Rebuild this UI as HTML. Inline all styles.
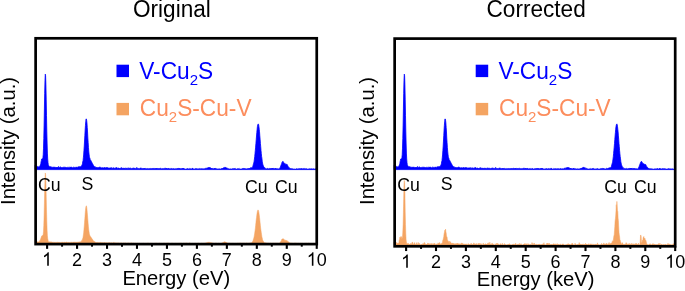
<!DOCTYPE html><html><head><meta charset="utf-8"><style>html,body{margin:0;padding:0;background:#fff;}svg{display:block;will-change:transform;}text{font-family:"Liberation Sans",sans-serif;}</style></head><body>
<svg width="685" height="291" viewBox="0 0 685 291">
<path d="M35.12 169.60L35.12 165.02L35.42 165.25L35.72 166.09L36.01 166.00L36.31 166.04L36.61 166.64L36.91 166.34L37.21 166.27L37.51 166.87L37.81 166.96L38.11 166.84L38.41 166.72L38.71 167.13L39.01 167.10L39.31 166.46L39.61 166.74L39.91 166.53L40.21 165.09L40.51 165.04L40.81 163.67L41.11 161.55L41.41 160.37L41.71 158.92L42.01 158.70L42.31 158.87L42.61 158.58L42.91 157.74L43.21 154.85L43.50 148.18L43.80 138.46L44.10 125.08L44.40 108.94L44.70 93.28L45.00 80.16L45.30 74.13L45.60 75.74L45.90 84.86L46.20 99.12L46.50 115.72L46.80 131.04L47.10 143.05L47.40 153.08L47.70 158.95L48.00 162.62L48.30 164.80L48.60 165.33L48.90 166.11L49.20 166.63L49.50 166.67L49.80 166.53L50.10 166.97L50.40 166.70L50.70 166.68L50.99 166.78L51.29 166.80L51.59 167.38L51.89 167.12L52.19 167.39L52.49 167.35L52.79 167.08L53.09 167.27L53.39 167.07L53.69 167.37L53.99 166.96L54.29 167.26L54.59 167.27L54.89 166.87L55.19 167.57L55.49 167.20L55.79 167.57L56.09 167.53L56.39 167.63L56.69 167.01L56.99 167.47L57.29 167.09L57.59 167.60L57.89 167.46L58.19 167.51L58.48 166.48L58.78 167.66L59.08 167.61L59.38 167.16L59.68 167.49L59.98 167.45L60.28 166.66L60.58 167.60L60.88 167.28L61.18 167.48L61.48 167.63L61.78 167.17L62.08 167.66L62.38 167.69L62.68 167.54L62.98 166.94L63.28 167.19L63.58 167.25L63.88 167.52L64.18 167.24L64.48 167.30L64.78 167.54L65.08 166.91L65.38 167.42L65.68 167.46L65.97 167.59L66.27 167.23L66.57 167.69L66.87 167.47L67.17 167.40L67.47 167.14L67.77 167.57L68.07 167.35L68.37 167.40L68.67 167.40L68.97 167.65L69.27 167.45L69.57 167.20L69.87 167.21L70.17 167.11L70.47 167.46L70.77 166.94L71.07 167.65L71.37 166.87L71.67 167.59L71.97 167.51L72.27 167.59L72.57 167.65L72.87 167.64L73.17 167.33L73.46 167.18L73.76 167.26L74.06 167.53L74.36 167.48L74.66 167.33L74.96 167.16L75.26 167.41L75.56 167.27L75.86 167.44L76.16 167.09L76.46 167.31L76.76 167.07L77.06 167.07L77.36 167.39L77.66 167.19L77.96 167.27L78.26 166.67L78.56 166.77L78.86 167.01L79.16 167.23L79.46 166.59L79.76 166.66L80.06 166.99L80.36 166.97L80.66 166.46L80.95 166.18L81.25 166.14L81.55 165.63L81.85 165.49L82.15 164.58L82.45 163.87L82.75 161.57L83.05 160.66L83.35 157.81L83.65 154.98L83.95 150.54L84.25 146.09L84.55 141.04L84.85 135.68L85.15 130.05L85.45 125.43L85.75 121.84L86.05 118.83L86.35 119.04L86.65 120.35L86.95 122.92L87.25 127.59L87.55 131.97L87.85 138.01L88.15 142.51L88.44 147.37L88.74 151.07L89.04 154.05L89.34 156.34L89.64 157.64L89.94 158.28L90.24 159.84L90.54 160.55L90.84 160.37L91.14 160.74L91.44 161.89L91.74 162.05L92.04 162.80L92.34 163.38L92.64 164.06L92.94 164.20L93.24 165.09L93.54 165.72L93.84 165.76L94.14 166.24L94.44 166.77L94.74 166.67L95.04 166.94L95.34 166.71L95.64 167.51L95.93 167.61L96.23 167.60L96.53 167.40L96.83 167.07L97.13 167.77L97.43 167.70L97.73 167.63L98.03 167.52L98.33 167.20L98.63 167.57L98.93 167.78L99.23 167.48L99.53 167.54L99.83 166.77L100.13 167.88L100.43 167.94L100.73 167.35L101.03 167.81L101.33 167.91L101.63 167.81L101.93 167.91L102.23 168.04L102.53 167.52L102.83 167.88L103.13 167.77L103.42 167.93L103.72 167.83L104.02 167.75L104.32 167.72L104.62 167.31L104.92 167.91L105.22 167.82L105.52 167.78L105.82 168.09L106.12 168.12L106.42 167.45L106.72 167.84L107.02 168.03L107.32 167.46L107.62 167.92L107.92 167.75L108.22 168.16L108.52 167.85L108.82 167.99L109.12 168.13L109.42 167.98L109.72 168.11L110.02 167.86L110.32 167.94L110.62 167.87L110.91 168.08L111.21 168.17L111.51 167.58L111.81 168.28L112.11 168.26L112.41 168.23L112.71 168.16L113.01 167.68L113.31 167.76L113.61 168.04L113.91 168.27L114.21 167.91L114.51 168.32L114.81 168.17L115.11 168.20L115.41 168.33L115.71 167.68L116.01 167.64L116.31 167.83L116.61 167.59L116.91 167.62L117.21 168.10L117.51 168.21L117.81 168.40L118.11 167.93L118.40 167.92L118.70 168.06L119.00 168.37L119.30 168.42L119.60 168.09L119.90 168.40L120.20 168.07L120.50 168.19L120.80 168.39L121.10 168.32L121.40 167.51L121.70 167.89L122.00 168.27L122.30 168.44L122.60 168.35L122.90 167.92L123.20 167.97L123.50 168.43L123.80 168.26L124.10 167.93L124.40 168.48L124.70 167.99L125.00 168.40L125.30 168.22L125.60 168.23L125.89 168.36L126.19 168.08L126.49 168.49L126.79 168.19L127.09 168.05L127.39 168.16L127.69 168.40L127.99 168.43L128.29 168.21L128.59 168.23L128.89 167.83L129.19 168.29L129.49 168.36L129.79 168.32L130.09 168.13L130.39 168.09L130.69 168.33L130.99 168.60L131.29 168.52L131.59 168.60L131.89 168.45L132.19 168.46L132.49 168.57L132.79 168.09L133.09 168.36L133.38 168.44L133.68 167.92L133.98 167.81L134.28 168.61L134.58 168.37L134.88 168.25L135.18 168.61L135.48 168.50L135.78 168.42L136.08 168.59L136.38 168.48L136.68 167.48L136.98 168.52L137.28 168.36L137.58 168.30L137.88 168.38L138.18 168.39L138.48 168.53L138.78 168.53L139.08 168.57L139.38 168.63L139.68 168.66L139.98 168.36L140.28 167.90L140.58 168.43L140.87 167.87L141.17 168.37L141.47 168.16L141.77 168.65L142.07 168.51L142.37 168.53L142.67 168.66L142.97 168.63L143.27 168.16L143.57 168.77L143.87 168.63L144.17 168.04L144.47 168.61L144.77 168.29L145.07 168.64L145.37 168.52L145.67 168.43L145.97 168.50L146.27 168.58L146.57 168.81L146.87 168.73L147.17 168.56L147.47 168.48L147.77 168.70L148.07 168.77L148.36 168.70L148.66 168.66L148.96 168.62L149.26 168.62L149.56 168.65L149.86 168.49L150.16 168.39L150.46 168.53L150.76 168.87L151.06 168.83L151.36 168.39L151.66 168.80L151.96 168.62L152.26 168.53L152.56 168.63L152.86 168.27L153.16 168.86L153.46 168.41L153.76 168.61L154.06 168.87L154.36 168.45L154.66 168.63L154.96 168.13L155.26 168.40L155.56 168.82L155.85 168.32L156.15 168.77L156.45 168.88L156.75 168.07L157.05 168.87L157.35 168.55L157.65 168.33L157.95 168.67L158.25 168.70L158.55 168.65L158.85 168.18L159.15 168.49L159.45 168.48L159.75 168.90L160.05 168.39L160.35 168.40L160.65 168.26L160.95 168.43L161.25 168.83L161.55 168.82L161.85 168.68L162.15 168.86L162.45 168.44L162.75 168.97L163.05 168.84L163.34 168.70L163.64 168.37L163.94 168.69L164.24 168.57L164.54 168.64L164.84 168.41L165.14 167.85L165.44 168.70L165.74 168.79L166.04 168.45L166.34 168.90L166.64 168.08L166.94 168.78L167.24 168.95L167.54 168.88L167.84 168.22L168.14 168.67L168.44 168.47L168.74 168.12L169.04 168.70L169.34 168.62L169.64 168.95L169.94 168.89L170.24 168.61L170.54 168.85L170.83 168.72L171.13 168.40L171.43 168.39L171.73 168.84L172.03 168.99L172.33 168.70L172.63 168.80L172.93 168.80L173.23 168.82L173.53 169.05L173.83 168.36L174.13 168.79L174.43 169.06L174.73 168.99L175.03 169.04L175.33 168.67L175.63 168.66L175.93 168.93L176.23 168.83L176.53 168.97L176.83 168.57L177.13 169.01L177.43 168.54L177.73 169.09L178.03 168.46L178.32 168.90L178.62 168.36L178.92 168.58L179.22 169.02L179.52 168.28L179.82 169.06L180.12 169.04L180.42 168.57L180.72 168.86L181.02 168.89L181.32 168.53L181.62 168.64L181.92 168.61L182.22 168.66L182.52 168.09L182.82 168.83L183.12 169.05L183.42 168.01L183.72 168.81L184.02 168.77L184.32 168.82L184.62 168.99L184.92 168.75L185.22 169.14L185.52 169.13L185.81 169.15L186.11 168.73L186.41 169.00L186.71 169.02L187.01 168.76L187.31 169.03L187.61 168.54L187.91 168.56L188.21 169.14L188.51 168.97L188.81 168.98L189.11 168.84L189.41 169.17L189.71 168.48L190.01 168.68L190.31 168.95L190.61 168.75L190.91 168.73L191.21 169.16L191.51 168.98L191.81 168.83L192.11 169.16L192.41 167.96L192.71 169.12L193.01 168.97L193.30 168.84L193.60 168.86L193.90 169.19L194.20 169.19L194.50 168.88L194.80 168.94L195.10 168.53L195.40 168.76L195.70 168.64L196.00 168.89L196.30 168.68L196.60 168.82L196.90 168.54L197.20 169.21L197.50 168.85L197.80 168.77L198.10 168.94L198.40 168.93L198.70 168.83L199.00 168.81L199.30 168.56L199.60 168.96L199.90 168.83L200.20 168.65L200.50 169.01L200.79 168.71L201.09 169.05L201.39 168.97L201.69 169.02L201.99 168.41L202.29 169.01L202.59 169.17L202.89 168.99L203.19 168.81L203.49 169.10L203.79 169.19L204.09 168.51L204.39 169.13L204.69 168.80L204.99 168.92L205.29 169.00L205.59 168.91L205.89 167.88L206.19 168.74L206.49 168.51L206.79 168.14L207.09 168.18L207.39 167.72L207.69 168.05L207.99 167.73L208.28 167.67L208.58 167.64L208.88 167.14L209.18 167.50L209.48 167.52L209.78 167.95L210.08 167.44L210.38 168.20L210.68 168.09L210.98 168.00L211.28 168.49L211.58 168.03L211.88 168.82L212.18 168.41L212.48 168.99L212.78 168.57L213.08 168.80L213.38 168.52L213.68 168.95L213.98 168.94L214.28 169.04L214.58 168.17L214.88 169.02L215.18 168.46L215.48 168.35L215.77 169.07L216.07 168.98L216.37 168.98L216.67 168.59L216.97 168.94L217.27 169.18L217.57 168.97L217.87 169.06L218.17 169.06L218.47 168.79L218.77 169.16L219.07 168.66L219.37 168.88L219.67 168.98L219.97 169.03L220.27 168.99L220.57 169.17L220.87 168.75L221.17 168.64L221.47 168.64L221.77 168.48L222.07 168.88L222.37 168.12L222.67 168.57L222.97 168.11L223.26 167.93L223.56 167.81L223.86 167.71L224.16 167.75L224.46 167.61L224.76 167.50L225.06 166.95L225.36 167.25L225.66 167.87L225.96 167.96L226.26 168.04L226.56 167.71L226.86 168.07L227.16 168.66L227.46 168.47L227.76 168.34L228.06 168.61L228.36 168.70L228.66 168.82L228.96 168.96L229.26 168.80L229.56 169.20L229.86 169.07L230.16 168.96L230.46 169.02L230.75 168.80L231.05 168.97L231.35 169.08L231.65 169.14L231.95 168.85L232.25 168.46L232.55 168.71L232.85 169.09L233.15 169.21L233.45 168.97L233.75 168.42L234.05 169.04L234.35 168.84L234.65 168.39L234.95 168.76L235.25 168.51L235.55 168.70L235.85 169.20L236.15 168.97L236.45 169.14L236.75 169.17L237.05 168.82L237.35 168.71L237.65 168.81L237.95 169.05L238.24 168.87L238.54 168.85L238.84 168.70L239.14 168.42L239.44 169.04L239.74 169.15L240.04 169.11L240.34 169.07L240.64 169.15L240.94 168.97L241.24 169.09L241.54 169.11L241.84 168.71L242.14 168.63L242.44 168.84L242.74 168.40L243.04 168.93L243.34 168.79L243.64 168.38L243.94 168.32L244.24 168.93L244.54 168.88L244.84 168.20L245.14 168.74L245.44 168.77L245.73 168.88L246.03 168.66L246.33 168.74L246.63 168.92L246.93 169.03L247.23 168.78L247.53 168.69L247.83 168.75L248.13 168.18L248.43 168.44L248.73 168.69L249.03 168.79L249.33 168.25L249.63 168.77L249.93 168.18L250.23 168.81L250.53 167.62L250.83 168.15L251.13 167.83L251.43 167.95L251.73 167.61L252.03 167.83L252.33 167.58L252.63 166.96L252.93 166.05L253.22 164.79L253.52 163.62L253.82 162.60L254.12 161.23L254.42 159.04L254.72 156.69L255.02 153.39L255.32 150.30L255.62 147.14L255.92 143.45L256.22 139.55L256.52 135.99L256.82 132.48L257.12 129.28L257.42 126.53L257.72 125.07L258.02 124.20L258.32 123.88L258.62 124.65L258.92 126.39L259.22 129.16L259.52 131.76L259.82 135.88L260.12 139.32L260.42 143.50L260.71 146.67L261.01 150.52L261.31 153.58L261.61 156.55L261.91 158.23L262.21 161.19L262.51 163.00L262.81 164.25L263.11 165.25L263.41 165.82L263.71 167.10L264.01 167.31L264.31 167.44L264.61 167.40L264.91 168.26L265.21 168.43L265.51 168.40L265.81 168.55L266.11 168.49L266.41 168.68L266.71 168.88L267.01 168.63L267.31 168.51L267.61 168.24L267.91 168.79L268.20 168.80L268.50 168.73L268.80 168.92L269.10 168.68L269.40 168.75L269.70 168.45L270.00 168.57L270.30 169.09L270.60 168.55L270.90 168.36L271.20 168.95L271.50 168.79L271.80 168.07L272.10 168.65L272.40 168.22L272.70 169.03L273.00 168.16L273.30 168.67L273.60 168.78L273.90 168.29L274.20 168.51L274.50 168.82L274.80 168.84L275.10 168.80L275.40 168.02L275.69 168.59L275.99 169.06L276.29 168.56L276.59 169.19L276.89 168.80L277.19 168.64L277.49 168.99L277.79 168.81L278.09 168.92L278.39 168.65L278.69 169.04L278.99 168.90L279.29 168.66L279.59 168.43L279.89 167.78L280.19 167.57L280.49 167.00L280.79 165.77L281.09 165.08L281.39 164.28L281.69 163.47L281.99 162.39L282.29 162.00L282.59 161.49L282.89 161.49L283.18 161.55L283.48 161.90L283.78 162.63L284.08 163.20L284.38 163.36L284.68 163.56L284.98 163.87L285.28 163.64L285.58 164.05L285.88 164.45L286.18 164.22L286.48 164.21L286.78 164.80L287.08 164.43L287.38 164.99L287.68 165.61L287.98 166.21L288.28 166.72L288.58 167.19L288.88 167.34L289.18 167.44L289.48 168.17L289.78 168.54L290.08 168.07L290.38 168.64L290.67 169.06L290.97 168.93L291.27 168.52L291.57 169.15L291.87 168.73L292.17 168.82L292.47 169.22L292.77 168.71L293.07 168.76L293.37 169.16L293.67 169.21L293.97 168.99L294.27 168.89L294.57 169.14L294.87 168.94L295.17 169.25L295.47 169.23L295.77 169.01L296.07 169.03L296.37 168.74L296.67 168.82L296.97 168.76L297.27 169.18L297.57 168.79L297.87 169.04L298.16 168.76L298.46 169.19L298.76 168.84L299.06 168.33L299.36 168.78L299.66 168.95L299.96 169.15L300.26 168.94L300.56 168.72L300.86 169.25L301.16 168.18L301.46 168.92L301.76 168.97L302.06 168.77L302.36 168.59L302.66 169.26L302.96 168.91L303.26 169.12L303.56 168.47L303.86 168.71L304.16 168.79L304.46 168.90L304.76 168.51L305.06 168.71L305.36 169.05L305.65 168.94L305.95 168.55L306.25 169.12L306.55 168.80L306.85 168.78L307.15 168.91L307.45 169.24L307.75 169.08L308.05 169.23L308.35 169.02L308.65 168.94L308.95 169.03L309.25 169.26L309.55 169.23L309.85 168.46L310.15 168.99L310.45 169.10L310.75 168.96L311.05 169.28L311.35 168.60L311.65 169.23L311.95 169.13L312.25 168.87L312.55 169.21L312.85 168.81L313.14 169.18L313.44 168.81L313.74 168.63L314.04 169.17L314.34 169.10L314.64 169.17L314.94 168.99L315.24 169.23L315.54 168.97L315.84 169.24L316.14 168.26L316.44 169.16L316.74 168.75L316.74 169.60Z" fill="#0000ff" stroke="#0000ff" stroke-width="0.8" stroke-linejoin="round"/>
<path d="M35.12 243.50L35.12 240.43L35.42 241.08L35.72 241.33L36.01 241.56L36.31 241.52L36.61 241.49L36.91 241.83L37.21 241.82L37.51 241.80L37.81 241.90L38.11 242.00L38.41 242.05L38.71 241.85L39.01 241.86L39.31 241.62L39.61 240.63L39.91 240.64L40.21 240.17L40.51 239.27L40.81 238.46L41.11 237.55L41.41 236.77L41.71 235.97L42.01 235.83L42.31 235.45L42.61 235.51L42.91 235.28L43.21 234.30L43.50 231.22L43.80 225.23L44.10 215.91L44.40 203.62L44.70 189.47L45.00 178.93L45.30 172.94L45.60 174.53L45.90 183.03L46.20 195.99L46.50 209.83L46.80 221.11L47.10 230.28L47.40 235.44L47.70 238.61L48.00 240.10L48.30 241.28L48.60 241.75L48.90 241.96L49.20 241.68L49.50 241.85L49.80 242.13L50.10 241.68L50.40 242.25L50.70 241.84L50.99 242.34L51.29 242.05L51.59 241.97L51.89 242.17L52.19 242.25L52.49 241.91L52.79 242.21L53.09 242.40L53.39 242.17L53.69 242.43L53.99 242.25L54.29 242.43L54.59 242.34L54.89 242.32L55.19 242.39L55.49 242.31L55.79 242.39L56.09 242.13L56.39 242.40L56.69 242.21L56.99 242.51L57.29 242.32L57.59 242.25L57.89 242.45L58.19 242.36L58.48 241.94L58.78 242.48L59.08 242.45L59.38 242.46L59.68 242.35L59.98 242.16L60.28 242.39L60.58 242.44L60.88 242.53L61.18 242.44L61.48 242.41L61.78 242.37L62.08 242.45L62.38 242.02L62.68 242.29L62.98 242.34L63.28 242.41L63.58 242.38L63.88 242.40L64.18 242.03L64.48 242.17L64.78 242.34L65.08 242.29L65.38 242.48L65.68 242.35L65.97 242.19L66.27 241.98L66.57 242.21L66.87 242.12L67.17 242.45L67.47 242.32L67.77 242.49L68.07 242.45L68.37 242.37L68.67 242.35L68.97 242.15L69.27 242.45L69.57 242.45L69.87 242.35L70.17 242.48L70.47 242.27L70.77 242.43L71.07 242.17L71.37 242.21L71.67 242.30L71.97 242.32L72.27 242.20L72.57 242.41L72.87 242.41L73.17 242.04L73.46 242.10L73.76 242.19L74.06 242.17L74.36 242.12L74.66 242.23L74.96 242.37L75.26 242.28L75.56 242.20L75.86 242.15L76.16 242.19L76.46 242.25L76.76 242.23L77.06 242.10L77.36 242.17L77.66 242.13L77.96 242.24L78.26 242.04L78.56 242.15L78.86 241.96L79.16 241.97L79.46 241.78L79.76 242.01L80.06 241.94L80.36 241.86L80.66 241.69L80.95 241.69L81.25 241.26L81.55 241.12L81.85 240.25L82.15 240.42L82.45 238.98L82.75 238.36L83.05 237.22L83.35 235.08L83.65 232.93L83.95 229.62L84.25 226.15L84.55 222.26L84.85 218.43L85.15 214.25L85.45 210.52L85.75 207.78L86.05 206.12L86.35 205.84L86.65 206.81L86.95 209.16L87.25 212.40L87.55 215.97L87.85 219.89L88.15 223.63L88.44 227.03L88.74 229.69L89.04 231.84L89.34 233.79L89.64 234.94L89.94 235.60L90.24 236.41L90.54 236.44L90.84 236.93L91.14 237.57L91.44 237.75L91.74 238.29L92.04 238.77L92.34 239.26L92.64 239.50L92.94 240.07L93.24 240.60L93.54 240.93L93.84 241.29L94.14 241.43L94.44 241.33L94.74 242.01L95.04 242.07L95.34 242.21L95.64 242.18L95.93 242.46L96.23 242.15L96.53 242.52L96.83 242.42L97.13 242.49L97.43 242.44L97.73 242.34L98.03 242.40L98.33 242.66L98.63 242.45L98.93 242.56L99.23 242.64L99.53 242.41L99.83 242.56L100.13 242.66L100.43 242.36L100.73 242.36L101.03 242.41L101.33 242.60L101.63 242.69L101.93 242.51L102.23 242.60L102.53 242.65L102.83 242.83L103.13 242.60L103.42 242.76L103.72 242.77L104.02 242.44L104.32 242.64L104.62 242.48L104.92 242.40L105.22 242.88L105.52 242.85L105.82 242.68L106.12 242.56L106.42 242.88L106.72 242.64L107.02 242.77L107.32 242.73L107.62 242.89L107.92 242.77L108.22 242.69L108.52 242.93L108.82 242.55L109.12 242.86L109.42 242.56L109.72 242.80L110.02 242.95L110.32 242.84L110.62 242.82L110.91 243.01L111.21 242.69L111.51 242.87L111.81 242.75L112.11 242.88L112.41 243.00L112.71 242.95L113.01 242.52L113.31 242.38L113.61 242.92L113.91 242.87L114.21 242.99L114.51 243.05L114.81 242.50L115.11 242.65L115.41 243.03L115.71 243.01L116.01 243.07L116.31 242.95L116.61 242.95L116.91 242.80L117.21 242.86L117.51 243.03L117.81 242.91L118.11 242.96L118.40 242.76L118.70 243.04L119.00 242.93L119.30 243.01L119.60 243.14L119.90 243.00L120.20 242.98L120.50 243.03L120.80 243.13L121.10 242.97L121.40 242.78L121.70 243.21L122.00 243.10L122.30 243.17L122.60 243.18L122.90 243.22L123.20 242.82L123.50 242.96L123.80 243.13L124.10 242.99L124.40 243.02L124.70 243.25L125.00 243.14L125.30 242.72L125.60 243.21L125.89 243.03L126.19 243.08L126.49 243.25L126.79 243.30L127.09 242.95L127.39 243.29L127.69 242.84L127.99 243.28L128.29 242.99L128.59 243.04L128.89 243.14L129.19 243.00L129.49 243.31L129.79 243.09L130.09 243.35L130.39 243.25L130.69 242.88L130.99 243.12L131.29 243.02L131.59 242.80L131.89 243.34L132.19 243.36L132.49 243.07L132.79 242.99L133.09 243.13L133.38 243.06L133.68 243.16L133.98 243.42L134.28 243.28L134.58 243.44L134.88 243.12L135.18 243.30L135.48 243.04L135.78 243.24L136.08 243.21L136.38 243.30L136.68 243.41L136.98 243.23L137.28 243.38L137.58 243.31L137.88 242.86L138.18 243.47L138.48 243.48L138.78 243.01L139.08 243.45L139.38 243.26L139.68 243.14L139.98 243.12L140.28 243.45L140.58 243.39L140.87 243.32L141.17 243.43L141.47 243.49L141.77 243.12L142.07 243.29L142.37 243.30L142.67 243.12L142.97 243.44L143.27 243.24L143.57 243.29L143.87 243.10L144.17 243.40L144.47 243.39L144.77 243.36L145.07 243.28L145.37 243.29L145.67 243.44L145.97 243.17L146.27 243.47L146.57 243.26L146.87 243.44L147.17 243.25L147.47 243.43L147.77 243.02L148.07 243.31L148.36 243.36L148.66 243.15L148.96 243.18L149.26 243.46L149.56 243.41L149.86 243.44L150.16 243.40L150.46 243.30L150.76 243.22L151.06 243.14L151.36 243.35L151.66 243.29L151.96 243.43L152.26 243.40L152.56 243.33L152.86 243.31L153.16 243.01L153.46 243.40L153.76 243.39L154.06 243.16L154.36 243.43L154.66 243.32L154.96 243.32L155.26 243.44L155.56 243.38L155.85 242.87L156.15 243.14L156.45 243.19L156.75 243.32L157.05 243.33L157.35 243.45L157.65 243.40L157.95 243.35L158.25 243.45L158.55 243.30L158.85 243.42L159.15 243.05L159.45 243.15L159.75 243.16L160.05 243.37L160.35 243.29L160.65 243.40L160.95 243.34L161.25 243.38L161.55 243.35L161.85 243.14L162.15 243.33L162.45 243.33L162.75 243.44L163.05 243.32L163.34 243.37L163.64 243.16L163.94 243.12L164.24 243.22L164.54 243.21L164.84 243.06L165.14 243.23L165.44 243.36L165.74 243.27L166.04 242.93L166.34 243.47L166.64 243.08L166.94 243.09L167.24 243.06L167.54 243.48L167.84 242.80L168.14 243.40L168.44 243.16L168.74 243.38L169.04 243.28L169.34 243.37L169.64 243.40L169.94 243.27L170.24 243.43L170.54 242.97L170.83 243.42L171.13 243.25L171.43 242.91L171.73 243.45L172.03 243.45L172.33 243.35L172.63 243.30L172.93 243.04L173.23 243.24L173.53 243.47L173.83 243.23L174.13 243.32L174.43 243.44L174.73 243.37L175.03 243.28L175.33 243.42L175.63 243.15L175.93 243.37L176.23 243.32L176.53 243.39L176.83 243.44L177.13 243.39L177.43 243.36L177.73 243.49L178.03 243.23L178.32 243.49L178.62 243.26L178.92 243.49L179.22 243.31L179.52 243.32L179.82 243.35L180.12 243.20L180.42 243.19L180.72 243.36L181.02 243.44L181.32 243.34L181.62 243.28L181.92 243.47L182.22 243.36L182.52 243.02L182.82 243.42L183.12 243.27L183.42 243.13L183.72 243.30L184.02 243.33L184.32 243.24L184.62 243.49L184.92 243.15L185.22 243.44L185.52 243.30L185.81 243.06L186.11 243.22L186.41 243.30L186.71 242.79L187.01 243.32L187.31 243.01L187.61 243.46L187.91 243.25L188.21 243.42L188.51 243.42L188.81 243.48L189.11 242.86L189.41 242.98L189.71 243.09L190.01 243.07L190.31 243.26L190.61 242.99L190.91 243.30L191.21 243.39L191.51 243.48L191.81 243.46L192.11 243.31L192.41 243.35L192.71 243.43L193.01 243.37L193.30 243.44L193.60 243.40L193.90 243.14L194.20 243.43L194.50 242.98L194.80 243.33L195.10 243.48L195.40 243.21L195.70 243.36L196.00 243.44L196.30 243.40L196.60 243.49L196.90 243.32L197.20 242.96L197.50 243.36L197.80 243.22L198.10 243.28L198.40 243.03L198.70 243.31L199.00 243.27L199.30 243.41L199.60 243.40L199.90 243.36L200.20 243.38L200.50 243.33L200.79 243.43L201.09 243.24L201.39 243.25L201.69 243.15L201.99 243.07L202.29 243.42L202.59 243.19L202.89 243.35L203.19 243.39L203.49 243.09L203.79 243.16L204.09 243.30L204.39 243.28L204.69 243.22L204.99 243.18L205.29 243.04L205.59 243.12L205.89 242.81L206.19 242.83L206.49 242.90L206.79 242.65L207.09 242.67L207.39 242.76L207.69 242.65L207.99 241.94L208.28 242.57L208.58 242.21L208.88 242.47L209.18 242.25L209.48 242.31L209.78 242.61L210.08 242.68L210.38 242.63L210.68 242.55L210.98 242.77L211.28 242.73L211.58 242.80L211.88 243.08L212.18 242.96L212.48 242.87L212.78 243.20L213.08 243.16L213.38 242.97L213.68 243.36L213.98 243.40L214.28 243.41L214.58 243.35L214.88 243.27L215.18 243.24L215.48 243.24L215.77 242.91L216.07 242.95L216.37 243.41L216.67 243.28L216.97 243.44L217.27 243.37L217.57 243.03L217.87 243.42L218.17 243.29L218.47 243.22L218.77 243.30L219.07 243.26L219.37 243.35L219.67 243.43L219.97 243.20L220.27 243.40L220.57 243.35L220.87 243.37L221.17 243.21L221.47 243.20L221.77 243.19L222.07 243.03L222.37 242.80L222.67 242.68L222.97 242.56L223.26 242.42L223.56 242.31L223.86 242.17L224.16 241.72L224.46 241.95L224.76 241.71L225.06 241.79L225.36 242.03L225.66 242.04L225.96 242.36L226.26 242.46L226.56 242.48L226.86 242.81L227.16 242.80L227.46 242.99L227.76 243.18L228.06 243.18L228.36 243.09L228.66 243.31L228.96 243.31L229.26 243.18L229.56 243.22L229.86 243.18L230.16 243.22L230.46 243.41L230.75 243.31L231.05 243.36L231.35 243.29L231.65 242.96L231.95 243.43L232.25 243.40L232.55 243.26L232.85 243.39L233.15 243.29L233.45 243.43L233.75 243.24L234.05 243.22L234.35 243.37L234.65 243.44L234.95 243.42L235.25 243.34L235.55 243.39L235.85 243.26L236.15 243.18L236.45 243.39L236.75 243.39L237.05 242.98L237.35 243.16L237.65 243.27L237.95 243.22L238.24 243.27L238.54 242.92L238.84 243.32L239.14 243.27L239.44 242.88L239.74 243.31L240.04 243.32L240.34 243.06L240.64 243.20L240.94 243.19L241.24 243.34L241.54 243.13L241.84 243.40L242.14 243.25L242.44 243.07L242.74 243.27L243.04 243.18L243.34 243.14L243.64 243.19L243.94 243.23L244.24 243.15L244.54 243.34L244.84 243.14L245.14 243.34L245.44 243.33L245.73 243.19L246.03 242.91L246.33 243.26L246.63 242.84L246.93 243.01L247.23 243.29L247.53 243.25L247.83 243.24L248.13 243.05L248.43 243.17L248.73 243.26L249.03 242.95L249.33 243.22L249.63 243.15L249.93 242.86L250.23 243.04L250.53 242.71L250.83 243.03L251.13 242.90L251.43 242.70L251.73 242.65L252.03 242.30L252.33 241.95L252.63 241.37L252.93 241.06L253.22 240.06L253.52 239.02L253.82 238.08L254.12 236.73L254.42 234.91L254.72 233.06L255.02 230.89L255.32 228.48L255.62 225.74L255.92 222.77L256.22 219.74L256.52 217.56L256.82 215.08L257.12 212.96L257.42 211.24L257.72 210.38L258.02 209.86L258.32 210.27L258.62 211.15L258.92 212.68L259.22 214.92L259.52 217.32L259.82 220.09L260.12 222.93L260.42 225.82L260.71 228.52L261.01 230.76L261.31 232.85L261.61 234.85L261.91 236.90L262.21 237.94L262.51 239.49L262.81 240.35L263.11 241.07L263.41 241.37L263.71 242.04L264.01 242.20L264.31 242.56L264.61 242.79L264.91 242.81L265.21 242.72L265.51 243.01L265.81 242.69L266.11 243.09L266.41 243.12L266.71 243.05L267.01 243.20L267.31 243.23L267.61 243.28L267.91 242.86L268.20 243.11L268.50 243.16L268.80 243.23L269.10 243.27L269.40 243.27L269.70 243.30L270.00 243.34L270.30 243.20L270.60 243.12L270.90 243.37L271.20 243.18L271.50 243.39L271.80 243.35L272.10 243.33L272.40 243.10L272.70 243.37L273.00 242.95L273.30 243.09L273.60 243.23L273.90 243.23L274.20 243.19L274.50 243.36L274.80 243.11L275.10 243.38L275.40 243.16L275.69 243.41L275.99 242.87L276.29 243.20L276.59 243.33L276.89 243.10L277.19 243.27L277.49 243.16L277.79 243.28L278.09 243.26L278.39 243.03L278.69 243.33L278.99 242.98L279.29 243.19L279.59 242.93L279.89 242.81L280.19 242.33L280.49 242.10L280.79 241.54L281.09 241.07L281.39 240.50L281.69 239.60L281.99 239.07L282.29 239.01L282.59 238.89L282.89 238.86L283.18 238.87L283.48 238.80L283.78 239.24L284.08 239.80L284.38 239.78L284.68 240.16L284.98 240.45L285.28 240.13L285.58 240.25L285.88 240.24L286.18 240.30L286.48 240.66L286.78 240.60L287.08 240.97L287.38 240.71L287.68 241.42L287.98 241.83L288.28 241.85L288.58 241.84L288.88 242.58L289.18 242.80L289.48 242.61L289.78 242.99L290.08 243.19L290.38 243.02L290.67 243.16L290.97 242.79L291.27 243.25L291.57 243.21L291.87 243.41L292.17 243.15L292.47 243.19L292.77 243.40L293.07 243.26L293.37 243.41L293.67 243.26L293.97 243.26L294.27 243.19L294.57 243.33L294.87 243.28L295.17 242.74L295.47 243.48L295.77 243.39L296.07 243.25L296.37 243.21L296.67 243.31L296.97 243.19L297.27 243.28L297.57 243.37L297.87 242.97L298.16 243.31L298.46 243.16L298.76 243.43L299.06 243.45L299.36 243.37L299.66 243.45L299.96 243.27L300.26 243.40L300.56 243.17L300.86 243.24L301.16 243.28L301.46 243.06L301.76 243.44L302.06 243.40L302.36 243.28L302.66 243.34L302.96 243.25L303.26 243.36L303.56 243.45L303.86 243.46L304.16 243.20L304.46 243.43L304.76 243.47L305.06 243.41L305.36 243.35L305.65 243.24L305.95 242.96L306.25 243.09L306.55 243.24L306.85 243.24L307.15 243.33L307.45 243.41L307.75 243.38L308.05 243.39L308.35 243.34L308.65 243.05L308.95 243.13L309.25 243.32L309.55 243.29L309.85 243.45L310.15 243.17L310.45 243.48L310.75 243.47L311.05 243.01L311.35 243.34L311.65 243.47L311.95 243.47L312.25 243.04L312.55 243.46L312.85 243.32L313.14 243.33L313.44 243.40L313.74 243.28L314.04 243.24L314.34 243.34L314.64 243.48L314.94 243.26L315.24 243.34L315.54 243.39L315.84 243.37L316.14 243.37L316.44 243.13L316.74 243.06L316.74 243.50Z" fill="#f4a462" stroke="#f4a462" stroke-width="0.5" stroke-linejoin="round"/>
<rect x="35.63" y="38.30" width="281.11" height="205.80" fill="none" stroke="#000" stroke-width="2.7"/>
<line x1="47.10" y1="244.10" x2="47.10" y2="248.85" stroke="#000" stroke-width="2.1"/>
<path transform="translate(42.09,265.65) scale(0.008789,-0.009053)" d="M763 0L583 0L583 1147Q518 1085 412 1023Q306 961 222 930L222 1104Q373 1175 486 1276Q599 1377 646 1472L763 1472Z"/>
<line x1="62.08" y1="244.10" x2="62.08" y2="246.65" stroke="#000" stroke-width="2.0"/>
<line x1="77.06" y1="244.10" x2="77.06" y2="248.85" stroke="#000" stroke-width="2.1"/>
<text transform="translate(77.06,265.65) scale(1,1.03)" font-size="18" text-anchor="middle">2</text>
<line x1="92.04" y1="244.10" x2="92.04" y2="246.65" stroke="#000" stroke-width="2.0"/>
<line x1="107.02" y1="244.10" x2="107.02" y2="248.85" stroke="#000" stroke-width="2.1"/>
<text transform="translate(107.02,265.65) scale(1,1.03)" font-size="18" text-anchor="middle">3</text>
<line x1="122.00" y1="244.10" x2="122.00" y2="246.65" stroke="#000" stroke-width="2.0"/>
<line x1="136.98" y1="244.10" x2="136.98" y2="248.85" stroke="#000" stroke-width="2.1"/>
<text transform="translate(136.98,265.65) scale(1,1.03)" font-size="18" text-anchor="middle">4</text>
<line x1="151.96" y1="244.10" x2="151.96" y2="246.65" stroke="#000" stroke-width="2.0"/>
<line x1="166.94" y1="244.10" x2="166.94" y2="248.85" stroke="#000" stroke-width="2.1"/>
<text transform="translate(166.94,265.65) scale(1,1.03)" font-size="18" text-anchor="middle">5</text>
<line x1="181.92" y1="244.10" x2="181.92" y2="246.65" stroke="#000" stroke-width="2.0"/>
<line x1="196.90" y1="244.10" x2="196.90" y2="248.85" stroke="#000" stroke-width="2.1"/>
<text transform="translate(196.90,265.65) scale(1,1.03)" font-size="18" text-anchor="middle">6</text>
<line x1="211.88" y1="244.10" x2="211.88" y2="246.65" stroke="#000" stroke-width="2.0"/>
<line x1="226.86" y1="244.10" x2="226.86" y2="248.85" stroke="#000" stroke-width="2.1"/>
<text transform="translate(226.86,265.65) scale(1,1.03)" font-size="18" text-anchor="middle">7</text>
<line x1="241.84" y1="244.10" x2="241.84" y2="246.65" stroke="#000" stroke-width="2.0"/>
<line x1="256.82" y1="244.10" x2="256.82" y2="248.85" stroke="#000" stroke-width="2.1"/>
<text transform="translate(256.82,265.65) scale(1,1.03)" font-size="18" text-anchor="middle">8</text>
<line x1="271.80" y1="244.10" x2="271.80" y2="246.65" stroke="#000" stroke-width="2.0"/>
<line x1="286.78" y1="244.10" x2="286.78" y2="248.85" stroke="#000" stroke-width="2.1"/>
<text transform="translate(286.78,265.65) scale(1,1.03)" font-size="18" text-anchor="middle">9</text>
<line x1="301.76" y1="244.10" x2="301.76" y2="246.65" stroke="#000" stroke-width="2.0"/>
<line x1="316.74" y1="244.10" x2="316.74" y2="248.85" stroke="#000" stroke-width="2.1"/>
<path transform="translate(306.73,265.65) scale(0.008789,-0.009053)" d="M763 0L583 0L583 1147Q518 1085 412 1023Q306 961 222 930L222 1104Q373 1175 486 1276Q599 1377 646 1472L763 1472Z"/><text transform="translate(316.74,265.65) scale(1,1.03)" font-size="18">0</text>
<path d="M394.14 169.60L394.14 165.02L394.44 165.25L394.74 166.09L395.04 166.00L395.34 166.04L395.64 166.64L395.93 166.34L396.23 166.27L396.53 166.87L396.83 166.96L397.13 166.84L397.43 166.72L397.73 167.13L398.03 167.10L398.33 166.46L398.62 166.74L398.92 166.53L399.22 165.09L399.52 165.04L399.82 163.67L400.12 161.55L400.42 160.37L400.72 158.92L401.02 158.70L401.32 158.87L401.62 158.58L401.91 157.74L402.21 154.85L402.51 148.18L402.81 138.46L403.11 125.08L403.41 108.94L403.71 93.28L404.01 80.16L404.31 74.13L404.61 75.74L404.90 84.86L405.20 99.12L405.50 115.72L405.80 131.04L406.10 143.05L406.40 153.08L406.70 158.95L407.00 162.62L407.30 164.80L407.60 165.33L407.89 166.11L408.19 166.63L408.49 166.67L408.79 166.53L409.09 166.97L409.39 166.70L409.69 166.68L409.99 166.78L410.29 166.80L410.59 167.38L410.88 167.12L411.18 167.39L411.48 167.35L411.78 167.08L412.08 167.27L412.38 167.07L412.68 167.37L412.98 166.96L413.28 167.26L413.58 167.27L413.87 166.87L414.17 167.57L414.47 167.20L414.77 167.57L415.07 167.53L415.37 167.63L415.67 167.01L415.97 167.47L416.27 167.09L416.56 167.60L416.86 167.46L417.16 167.51L417.46 166.48L417.76 167.66L418.06 167.61L418.36 167.16L418.66 167.49L418.96 167.45L419.26 166.66L419.56 167.60L419.85 167.28L420.15 167.48L420.45 167.63L420.75 167.17L421.05 167.66L421.35 167.69L421.65 167.54L421.95 166.94L422.25 167.19L422.55 167.25L422.84 167.52L423.14 167.24L423.44 167.30L423.74 167.54L424.04 166.91L424.34 167.42L424.64 167.46L424.94 167.59L425.24 167.23L425.54 167.69L425.83 167.47L426.13 167.40L426.43 167.14L426.73 167.57L427.03 167.35L427.33 167.40L427.63 167.40L427.93 167.65L428.23 167.45L428.53 167.20L428.82 167.21L429.12 167.11L429.42 167.46L429.72 166.94L430.02 167.65L430.32 166.87L430.62 167.59L430.92 167.51L431.22 167.59L431.52 167.65L431.81 167.64L432.11 167.33L432.41 167.18L432.71 167.26L433.01 167.53L433.31 167.48L433.61 167.33L433.91 167.16L434.21 167.41L434.51 167.27L434.80 167.44L435.10 167.09L435.40 167.31L435.70 167.07L436.00 167.07L436.30 167.39L436.60 167.19L436.90 167.27L437.20 166.67L437.50 166.77L437.79 167.01L438.09 167.23L438.39 166.59L438.69 166.66L438.99 166.99L439.29 166.97L439.59 166.46L439.89 166.18L440.19 166.14L440.49 165.63L440.78 165.49L441.08 164.58L441.38 163.87L441.68 161.57L441.98 160.66L442.28 157.81L442.58 154.98L442.88 150.54L443.18 146.09L443.48 141.04L443.77 135.68L444.07 130.05L444.37 125.43L444.67 121.84L444.97 118.83L445.27 119.04L445.57 120.35L445.87 122.92L446.17 127.59L446.47 131.97L446.76 138.01L447.06 142.51L447.36 147.37L447.66 151.07L447.96 154.05L448.26 156.34L448.56 157.64L448.86 158.28L449.16 159.84L449.46 160.55L449.75 160.37L450.05 160.74L450.35 161.89L450.65 162.05L450.95 162.80L451.25 163.38L451.55 164.06L451.85 164.20L452.15 165.09L452.44 165.72L452.74 165.76L453.04 166.24L453.34 166.77L453.64 166.67L453.94 166.94L454.24 166.71L454.54 167.51L454.84 167.61L455.14 167.60L455.44 167.40L455.73 167.07L456.03 167.77L456.33 167.70L456.63 167.63L456.93 167.52L457.23 167.20L457.53 167.57L457.83 167.78L458.13 167.48L458.43 167.54L458.72 166.77L459.02 167.88L459.32 167.94L459.62 167.35L459.92 167.81L460.22 167.91L460.52 167.81L460.82 167.91L461.12 168.04L461.42 167.52L461.71 167.88L462.01 167.77L462.31 167.93L462.61 167.83L462.91 167.75L463.21 167.72L463.51 167.31L463.81 167.91L464.11 167.82L464.41 167.78L464.70 168.09L465.00 168.12L465.30 167.45L465.60 167.84L465.90 168.03L466.20 167.46L466.50 167.92L466.80 167.75L467.10 168.16L467.40 167.85L467.69 167.99L467.99 168.13L468.29 167.98L468.59 168.11L468.89 167.86L469.19 167.94L469.49 167.87L469.79 168.08L470.09 168.17L470.39 167.58L470.68 168.28L470.98 168.26L471.28 168.23L471.58 168.16L471.88 167.68L472.18 167.76L472.48 168.04L472.78 168.27L473.08 167.91L473.38 168.32L473.67 168.17L473.97 168.20L474.27 168.33L474.57 167.68L474.87 167.64L475.17 167.83L475.47 167.59L475.77 167.62L476.07 168.10L476.37 168.21L476.66 168.40L476.96 167.93L477.26 167.92L477.56 168.06L477.86 168.37L478.16 168.42L478.46 168.09L478.76 168.40L479.06 168.07L479.36 168.19L479.65 168.39L479.95 168.32L480.25 167.51L480.55 167.89L480.85 168.27L481.15 168.44L481.45 168.35L481.75 167.92L482.05 167.97L482.35 168.43L482.64 168.26L482.94 167.93L483.24 168.48L483.54 167.99L483.84 168.40L484.14 168.22L484.44 168.23L484.74 168.36L485.04 168.08L485.34 168.49L485.63 168.19L485.93 168.05L486.23 168.16L486.53 168.40L486.83 168.43L487.13 168.21L487.43 168.23L487.73 167.83L488.03 168.29L488.33 168.36L488.62 168.32L488.92 168.13L489.22 168.09L489.52 168.33L489.82 168.60L490.12 168.52L490.42 168.60L490.72 168.45L491.02 168.46L491.32 168.57L491.61 168.09L491.91 168.36L492.21 168.44L492.51 167.92L492.81 167.81L493.11 168.61L493.41 168.37L493.71 168.25L494.01 168.61L494.31 168.50L494.60 168.42L494.90 168.59L495.20 168.48L495.50 167.48L495.80 168.52L496.10 168.36L496.40 168.30L496.70 168.38L497.00 168.39L497.30 168.53L497.59 168.53L497.89 168.57L498.19 168.63L498.49 168.66L498.79 168.36L499.09 167.90L499.39 168.43L499.69 167.87L499.99 168.37L500.29 168.16L500.58 168.65L500.88 168.51L501.18 168.53L501.48 168.66L501.78 168.63L502.08 168.16L502.38 168.77L502.68 168.63L502.98 168.04L503.28 168.61L503.57 168.29L503.87 168.64L504.17 168.52L504.47 168.43L504.77 168.50L505.07 168.58L505.37 168.81L505.67 168.73L505.97 168.56L506.26 168.48L506.56 168.70L506.86 168.77L507.16 168.70L507.46 168.66L507.76 168.62L508.06 168.62L508.36 168.65L508.66 168.49L508.96 168.39L509.25 168.53L509.55 168.87L509.85 168.83L510.15 168.39L510.45 168.80L510.75 168.62L511.05 168.53L511.35 168.63L511.65 168.27L511.95 168.86L512.25 168.41L512.54 168.61L512.84 168.87L513.14 168.45L513.44 168.63L513.74 168.13L514.04 168.40L514.34 168.82L514.64 168.32L514.94 168.77L515.24 168.88L515.53 168.07L515.83 168.87L516.13 168.55L516.43 168.33L516.73 168.67L517.03 168.70L517.33 168.65L517.63 168.18L517.93 168.49L518.23 168.48L518.52 168.90L518.82 168.39L519.12 168.40L519.42 168.26L519.72 168.43L520.02 168.83L520.32 168.82L520.62 168.68L520.92 168.86L521.22 168.44L521.51 168.97L521.81 168.84L522.11 168.70L522.41 168.37L522.71 168.69L523.01 168.57L523.31 168.64L523.61 168.41L523.91 167.85L524.21 168.70L524.50 168.79L524.80 168.45L525.10 168.90L525.40 168.08L525.70 168.78L526.00 168.95L526.30 168.88L526.60 168.22L526.90 168.67L527.20 168.47L527.49 168.12L527.79 168.70L528.09 168.62L528.39 168.95L528.69 168.89L528.99 168.61L529.29 168.85L529.59 168.72L529.89 168.40L530.18 168.39L530.48 168.84L530.78 168.99L531.08 168.70L531.38 168.80L531.68 168.80L531.98 168.82L532.28 169.05L532.58 168.36L532.88 168.79L533.17 169.06L533.47 168.99L533.77 169.04L534.07 168.67L534.37 168.66L534.67 168.93L534.97 168.83L535.27 168.97L535.57 168.57L535.87 169.01L536.16 168.54L536.46 169.09L536.76 168.46L537.06 168.90L537.36 168.36L537.66 168.58L537.96 169.02L538.26 168.28L538.56 169.06L538.86 169.04L539.15 168.57L539.45 168.86L539.75 168.89L540.05 168.53L540.35 168.64L540.65 168.61L540.95 168.66L541.25 168.09L541.55 168.83L541.85 169.05L542.14 168.01L542.44 168.81L542.74 168.77L543.04 168.82L543.34 168.99L543.64 168.75L543.94 169.14L544.24 169.13L544.54 169.15L544.84 168.73L545.13 169.00L545.43 169.02L545.73 168.76L546.03 169.03L546.33 168.54L546.63 168.56L546.93 169.14L547.23 168.97L547.53 168.98L547.83 168.84L548.12 169.17L548.42 168.48L548.72 168.68L549.02 168.95L549.32 168.75L549.62 168.73L549.92 169.16L550.22 168.98L550.52 168.83L550.82 169.16L551.12 167.96L551.41 169.12L551.71 168.97L552.01 168.84L552.31 168.86L552.61 169.19L552.91 169.19L553.21 168.88L553.51 168.94L553.81 168.53L554.11 168.76L554.40 168.64L554.70 168.89L555.00 168.68L555.30 168.82L555.60 168.54L555.90 169.21L556.20 168.85L556.50 168.77L556.80 168.94L557.10 168.93L557.39 168.83L557.69 168.81L557.99 168.56L558.29 168.96L558.59 168.83L558.89 168.65L559.19 169.01L559.49 168.71L559.79 169.05L560.09 168.97L560.38 169.02L560.68 168.41L560.98 169.01L561.28 169.17L561.58 168.99L561.88 168.81L562.18 169.10L562.48 169.19L562.78 168.51L563.08 169.13L563.37 168.80L563.67 168.92L563.97 169.00L564.27 168.91L564.57 167.88L564.87 168.74L565.17 168.51L565.47 168.14L565.77 168.18L566.07 167.72L566.36 168.05L566.66 167.73L566.96 167.67L567.26 167.64L567.56 167.14L567.86 167.50L568.16 167.52L568.46 167.95L568.76 167.44L569.06 168.20L569.35 168.09L569.65 168.00L569.95 168.49L570.25 168.03L570.55 168.82L570.85 168.41L571.15 168.99L571.45 168.57L571.75 168.80L572.05 168.52L572.34 168.95L572.64 168.94L572.94 169.04L573.24 168.17L573.54 169.02L573.84 168.46L574.14 168.35L574.44 169.07L574.74 168.98L575.03 168.98L575.33 168.59L575.63 168.94L575.93 169.18L576.23 168.97L576.53 169.06L576.83 169.06L577.13 168.79L577.43 169.16L577.73 168.66L578.02 168.88L578.32 168.98L578.62 169.03L578.92 168.99L579.22 169.17L579.52 168.75L579.82 168.64L580.12 168.64L580.42 168.48L580.72 168.88L581.01 168.12L581.31 168.57L581.61 168.11L581.91 167.93L582.21 167.81L582.51 167.71L582.81 167.75L583.11 167.61L583.41 167.50L583.71 166.95L584.00 167.25L584.30 167.87L584.60 167.96L584.90 168.04L585.20 167.71L585.50 168.07L585.80 168.66L586.10 168.47L586.40 168.34L586.70 168.61L587.00 168.70L587.29 168.82L587.59 168.96L587.89 168.80L588.19 169.20L588.49 169.07L588.79 168.96L589.09 169.02L589.39 168.80L589.69 168.97L589.99 169.08L590.28 169.14L590.58 168.85L590.88 168.46L591.18 168.71L591.48 169.09L591.78 169.21L592.08 168.97L592.38 168.42L592.68 169.04L592.98 168.84L593.27 168.39L593.57 168.76L593.87 168.51L594.17 168.70L594.47 169.20L594.77 168.97L595.07 169.14L595.37 169.17L595.67 168.82L595.97 168.71L596.26 168.81L596.56 169.05L596.86 168.87L597.16 168.85L597.46 168.70L597.76 168.42L598.06 169.04L598.36 169.15L598.66 169.11L598.96 169.07L599.25 169.15L599.55 168.97L599.85 169.09L600.15 169.11L600.45 168.71L600.75 168.63L601.05 168.84L601.35 168.40L601.65 168.93L601.95 168.79L602.24 168.38L602.54 168.32L602.84 168.93L603.14 168.88L603.44 168.20L603.74 168.74L604.04 168.77L604.34 168.88L604.64 168.66L604.93 168.74L605.23 168.92L605.53 169.03L605.83 168.78L606.13 168.69L606.43 168.75L606.73 168.18L607.03 168.44L607.33 168.69L607.63 168.79L607.92 168.25L608.22 168.77L608.52 168.18L608.82 168.81L609.12 167.62L609.42 168.15L609.72 167.83L610.02 167.95L610.32 167.61L610.62 167.83L610.91 167.58L611.21 166.96L611.51 166.05L611.81 164.79L612.11 163.62L612.41 162.60L612.71 161.23L613.01 159.04L613.31 156.69L613.61 153.39L613.90 150.30L614.20 147.14L614.50 143.45L614.80 139.55L615.10 135.99L615.40 132.48L615.70 129.28L616.00 126.53L616.30 125.07L616.60 124.20L616.89 123.88L617.19 124.65L617.49 126.39L617.79 129.16L618.09 131.76L618.39 135.88L618.69 139.32L618.99 143.50L619.29 146.67L619.59 150.52L619.88 153.58L620.18 156.55L620.48 158.23L620.78 161.19L621.08 163.00L621.38 164.25L621.68 165.25L621.98 165.82L622.28 167.10L622.58 167.31L622.88 167.44L623.17 167.40L623.47 168.26L623.77 168.43L624.07 168.40L624.37 168.55L624.67 168.49L624.97 168.68L625.27 168.88L625.57 168.63L625.87 168.51L626.16 168.24L626.46 168.79L626.76 168.80L627.06 168.73L627.36 168.92L627.66 168.68L627.96 168.75L628.26 168.45L628.56 168.57L628.86 169.09L629.15 168.55L629.45 168.36L629.75 168.95L630.05 168.79L630.35 168.07L630.65 168.65L630.95 168.22L631.25 169.03L631.55 168.16L631.85 168.67L632.14 168.78L632.44 168.29L632.74 168.51L633.04 168.82L633.34 168.84L633.64 168.80L633.94 168.02L634.24 168.59L634.54 169.06L634.84 168.56L635.13 169.19L635.43 168.80L635.73 168.64L636.03 168.99L636.33 168.81L636.63 168.92L636.93 168.65L637.23 169.04L637.53 168.90L637.83 168.66L638.12 168.43L638.42 167.78L638.72 167.57L639.02 167.00L639.32 165.77L639.62 165.08L639.92 164.28L640.22 163.47L640.52 162.39L640.82 162.00L641.11 161.49L641.41 161.49L641.71 161.55L642.01 161.90L642.31 162.63L642.61 163.20L642.91 163.36L643.21 163.56L643.51 163.87L643.80 163.64L644.10 164.05L644.40 164.45L644.70 164.22L645.00 164.21L645.30 164.80L645.60 164.43L645.90 164.99L646.20 165.61L646.50 166.21L646.79 166.72L647.09 167.19L647.39 167.34L647.69 167.44L647.99 168.17L648.29 168.54L648.59 168.07L648.89 168.64L649.19 169.06L649.49 168.93L649.79 168.52L650.08 169.15L650.38 168.73L650.68 168.82L650.98 169.22L651.28 168.71L651.58 168.76L651.88 169.16L652.18 169.21L652.48 168.99L652.77 168.89L653.07 169.14L653.37 168.94L653.67 169.25L653.97 169.23L654.27 169.01L654.57 169.03L654.87 168.74L655.17 168.82L655.47 168.76L655.76 169.18L656.06 168.79L656.36 169.04L656.66 168.76L656.96 169.19L657.26 168.84L657.56 168.33L657.86 168.78L658.16 168.95L658.46 169.15L658.75 168.94L659.05 168.72L659.35 169.25L659.65 168.18L659.95 168.92L660.25 168.97L660.55 168.77L660.85 168.59L661.15 169.26L661.45 168.91L661.75 169.12L662.04 168.47L662.34 168.71L662.64 168.79L662.94 168.90L663.24 168.51L663.54 168.71L663.84 169.05L664.14 168.94L664.44 168.55L664.74 169.12L665.03 168.80L665.33 168.78L665.63 168.91L665.93 169.24L666.23 169.08L666.53 169.23L666.83 169.02L667.13 168.94L667.43 169.03L667.73 169.26L668.02 169.23L668.32 168.46L668.62 168.99L668.92 169.10L669.22 168.96L669.52 169.28L669.82 168.60L670.12 169.23L670.42 169.13L670.71 168.87L671.01 169.21L671.31 168.81L671.61 169.18L671.91 168.81L672.21 168.63L672.51 169.17L672.81 169.10L673.11 169.17L673.41 168.99L673.70 169.23L674.00 168.97L674.30 169.24L674.60 168.26L674.90 169.16L675.20 168.75L675.20 169.60Z" fill="#0000ff" stroke="#0000ff" stroke-width="0.8" stroke-linejoin="round"/>
<path d="M394.14 245.30L394.14 242.24L394.44 243.39L394.74 241.31L395.04 242.64L395.34 242.60L395.64 242.51L395.93 244.46L396.23 242.15L396.53 243.44L396.83 244.60L397.13 243.87L397.43 243.22L397.73 243.18L398.03 242.84L398.33 243.53L398.62 243.07L398.92 243.50L399.22 239.90L399.52 240.27L399.82 237.28L400.12 238.00L400.42 237.45L400.72 236.58L401.02 236.91L401.32 236.67L401.62 236.80L401.91 239.27L402.21 237.92L402.51 237.01L402.81 231.99L403.11 224.92L403.41 212.27L403.71 197.24L404.01 183.93L404.31 180.47L404.61 182.96L404.90 191.62L405.20 211.87L405.50 224.75L405.80 234.00L406.10 239.73L406.40 241.91L406.70 243.59L407.00 243.83L407.30 243.51L407.60 243.83L407.89 243.38L408.19 243.57L408.49 243.38L408.79 244.64L409.09 243.91L409.39 244.98L409.69 244.24L409.99 244.24L410.29 244.24L410.59 243.54L410.88 243.44L411.18 244.03L411.48 243.68L411.78 244.52L412.08 242.06L412.38 242.28L412.68 242.25L412.98 243.94L413.28 244.51L413.58 243.86L413.87 244.21L414.17 242.97L414.47 242.65L414.77 242.69L415.07 244.26L415.37 245.21L415.67 244.25L415.97 245.23L416.27 243.64L416.56 243.31L416.86 242.54L417.16 243.80L417.46 244.06L417.76 245.16L418.06 243.70L418.36 242.52L418.66 244.63L418.96 244.62L419.26 244.29L419.56 243.30L419.85 244.21L420.15 244.70L420.45 244.97L420.75 244.65L421.05 244.23L421.35 244.54L421.65 244.10L421.95 245.25L422.25 245.12L422.55 244.06L422.84 243.58L423.14 243.72L423.44 244.33L423.74 243.59L424.04 243.70L424.34 242.41L424.64 242.96L424.94 243.07L425.24 243.96L425.54 245.20L425.83 244.04L426.13 244.45L426.43 244.00L426.73 244.96L427.03 244.53L427.33 244.30L427.63 243.26L427.93 243.41L428.23 244.45L428.53 245.03L428.82 243.00L429.12 244.84L429.42 243.79L429.72 244.59L430.02 244.71L430.32 244.25L430.62 244.54L430.92 243.18L431.22 243.69L431.52 243.97L431.81 245.03L432.11 243.33L432.41 245.21L432.71 245.00L433.01 244.55L433.31 244.26L433.61 243.68L433.91 244.03L434.21 243.01L434.51 243.58L434.80 244.05L435.10 243.69L435.40 244.49L435.70 244.78L436.00 245.18L436.30 244.34L436.60 244.16L436.90 243.68L437.20 244.84L437.50 244.23L437.79 243.74L438.09 242.83L438.39 243.22L438.69 244.14L438.99 243.37L439.29 243.11L439.59 242.52L439.89 244.31L440.19 244.76L440.49 243.81L440.78 243.93L441.08 243.57L441.38 244.32L441.68 243.60L441.98 242.97L442.28 243.34L442.58 241.24L442.88 239.93L443.18 239.38L443.48 238.02L443.77 236.69L444.07 233.80L444.37 232.73L444.67 230.72L444.97 230.13L445.27 230.85L445.57 229.09L445.87 231.68L446.17 232.93L446.47 235.96L446.76 236.77L447.06 236.95L447.36 239.96L447.66 240.05L447.96 241.19L448.26 241.31L448.56 241.22L448.86 242.16L449.16 243.40L449.46 242.32L449.75 240.97L450.05 242.43L450.35 242.08L450.65 241.91L450.95 243.48L451.25 243.01L451.55 243.38L451.85 243.43L452.15 244.38L452.44 243.01L452.74 243.09L453.04 243.62L453.34 243.76L453.64 243.47L453.94 243.17L454.24 244.10L454.54 244.20L454.84 244.02L455.14 243.56L455.44 243.95L455.73 244.33L456.03 243.57L456.33 244.28L456.63 244.35L456.93 243.14L457.23 243.79L457.53 243.15L457.83 243.56L458.13 243.65L458.43 243.57L458.72 243.90L459.02 244.00L459.32 244.78L459.62 243.65L459.92 243.74L460.22 244.73L460.52 244.08L460.82 243.65L461.12 244.43L461.42 242.87L461.71 244.20L462.01 244.13L462.31 243.17L462.61 243.30L462.91 244.47L463.21 243.93L463.51 244.04L463.81 244.26L464.11 244.55L464.41 243.77L464.70 245.26L465.00 244.07L465.30 244.16L465.60 244.17L465.90 243.80L466.20 244.83L466.50 245.12L466.80 243.84L467.10 244.66L467.40 245.28L467.69 245.14L467.99 243.71L468.29 243.47L468.59 245.27L468.89 244.18L469.19 244.74L469.49 244.25L469.79 244.58L470.09 245.28L470.39 245.28L470.68 243.54L470.98 245.28L471.28 244.82L471.58 243.37L471.88 245.28L472.18 244.39L472.48 245.06L472.78 244.46L473.08 244.63L473.38 244.29L473.67 242.87L473.97 244.04L474.27 245.28L474.57 244.03L474.87 243.37L475.17 244.14L475.47 245.28L475.77 243.92L476.07 245.28L476.37 244.21L476.66 243.62L476.96 243.52L477.26 244.63L477.56 244.93L477.86 245.29L478.16 243.27L478.46 243.60L478.76 245.29L479.06 243.56L479.36 243.14L479.65 245.29L479.95 245.07L480.25 244.22L480.55 243.51L480.85 244.95L481.15 245.29L481.45 244.82L481.75 243.63L482.05 244.61L482.35 245.29L482.64 244.89L482.94 244.83L483.24 242.97L483.54 243.91L483.84 245.29L484.14 244.72L484.44 244.80L484.74 244.10L485.04 244.02L485.34 243.69L485.63 243.94L485.93 243.89L486.23 243.97L486.53 244.61L486.83 244.34L487.13 244.12L487.43 245.01L487.73 243.33L488.03 244.00L488.33 242.70L488.62 244.79L488.92 243.92L489.22 244.29L489.52 244.28L489.82 242.17L490.12 244.52L490.42 245.29L490.72 243.86L491.02 244.36L491.32 245.29L491.61 244.30L491.91 243.23L492.21 243.16L492.51 244.61L492.81 243.80L493.11 244.47L493.41 243.94L493.71 245.29L494.01 245.29L494.31 245.11L494.60 245.04L494.90 245.29L495.20 243.66L495.50 244.00L495.80 245.29L496.10 244.97L496.40 245.29L496.70 243.04L497.00 245.29L497.30 245.29L497.59 243.22L497.89 243.88L498.19 245.29L498.49 243.80L498.79 244.87L499.09 245.29L499.39 244.96L499.69 245.29L499.99 244.02L500.29 243.68L500.58 245.29L500.88 243.73L501.18 244.75L501.48 245.21L501.78 244.71L502.08 244.33L502.38 243.18L502.68 244.71L502.98 245.29L503.28 244.91L503.57 244.71L503.87 244.55L504.17 243.74L504.47 243.50L504.77 245.29L505.07 244.38L505.37 244.71L505.67 245.29L505.97 244.51L506.26 245.20L506.56 245.09L506.86 245.09L507.16 245.29L507.46 244.41L507.76 244.64L508.06 245.20L508.36 244.24L508.66 244.25L508.96 245.02L509.25 243.75L509.55 243.76L509.85 245.21L510.15 244.61L510.45 244.80L510.75 245.29L511.05 244.77L511.35 244.97L511.65 245.29L511.95 245.17L512.25 244.27L512.54 245.13L512.84 244.82L513.14 243.92L513.44 245.08L513.74 245.25L514.04 243.89L514.34 245.29L514.64 245.29L514.94 244.38L515.24 244.54L515.53 243.40L515.83 243.19L516.13 244.64L516.43 244.68L516.73 245.13L517.03 245.29L517.33 245.23L517.63 244.26L517.93 245.29L518.23 243.80L518.52 245.07L518.82 245.29L519.12 245.29L519.42 244.72L519.72 243.26L520.02 245.15L520.32 244.23L520.62 244.45L520.92 244.31L521.22 243.66L521.51 244.49L521.81 245.20L522.11 244.91L522.41 245.29L522.71 245.29L523.01 244.42L523.31 245.26L523.61 244.10L523.91 244.57L524.21 243.92L524.50 243.70L524.80 244.17L525.10 243.40L525.40 244.65L525.70 245.12L526.00 243.93L526.30 244.56L526.60 244.46L526.90 243.59L527.20 244.63L527.49 244.77L527.79 245.28L528.09 243.54L528.39 244.34L528.69 244.87L528.99 244.41L529.29 244.91L529.59 245.29L529.89 244.15L530.18 244.30L530.48 244.55L530.78 244.71L531.08 244.72L531.38 244.97L531.68 245.29L531.98 242.56L532.28 245.29L532.58 245.29L532.88 243.22L533.17 243.45L533.47 244.43L533.77 244.91L534.07 244.76L534.37 242.98L534.67 244.15L534.97 244.66L535.27 245.29L535.57 245.04L535.87 244.34L536.16 243.92L536.46 245.29L536.76 244.77L537.06 244.67L537.36 244.66L537.66 244.70L537.96 244.43L538.26 244.56L538.56 244.60L538.86 244.24L539.15 243.91L539.45 244.82L539.75 244.62L540.05 244.70L540.35 244.29L540.65 244.68L540.95 245.29L541.25 245.09L541.55 245.29L541.85 244.09L542.14 245.11L542.44 244.37L542.74 245.29L543.04 243.63L543.34 244.31L543.64 245.21L543.94 242.69L544.24 244.93L544.54 244.70L544.84 244.61L545.13 244.42L545.43 244.80L545.73 245.29L546.03 245.06L546.33 244.61L546.63 244.63L546.93 243.04L547.23 244.98L547.53 243.11L547.83 245.06L548.12 244.06L548.42 243.38L548.72 245.25L549.02 244.64L549.32 243.13L549.62 244.31L549.92 245.02L550.22 244.95L550.52 244.49L550.82 245.01L551.12 244.14L551.41 245.29L551.71 244.28L552.01 245.29L552.31 245.29L552.61 244.27L552.91 244.03L553.21 243.81L553.51 243.77L553.81 243.95L554.11 244.61L554.40 243.85L554.70 243.97L555.00 244.39L555.30 244.35L555.60 244.13L555.90 243.77L556.20 244.38L556.50 245.29L556.80 244.15L557.10 244.12L557.39 243.63L557.69 245.29L557.99 244.82L558.29 244.75L558.59 243.99L558.89 245.29L559.19 245.29L559.49 244.72L559.79 244.77L560.09 243.87L560.38 244.08L560.68 245.29L560.98 245.29L561.28 245.29L561.58 245.29L561.88 244.50L562.18 243.87L562.48 244.76L562.78 244.00L563.08 244.17L563.37 243.85L563.67 244.91L563.97 244.66L564.27 244.87L564.57 244.90L564.87 245.29L565.17 245.29L565.47 245.29L565.77 244.69L566.07 244.46L566.36 245.13L566.66 244.82L566.96 244.30L567.26 244.77L567.56 244.23L567.86 245.28L568.16 243.38L568.46 244.98L568.76 244.71L569.06 244.07L569.35 244.67L569.65 244.58L569.95 244.08L570.25 245.28L570.55 244.76L570.85 245.20L571.15 244.36L571.45 245.05L571.75 243.56L572.05 244.31L572.34 243.13L572.64 243.57L572.94 243.98L573.24 244.60L573.54 244.94L573.84 245.28L574.14 245.17L574.44 245.28L574.74 245.21L575.03 243.10L575.33 244.73L575.63 244.17L575.93 244.82L576.23 245.28L576.53 244.63L576.83 245.28L577.13 245.28L577.43 244.37L577.73 245.03L578.02 245.22L578.32 244.36L578.62 245.27L578.92 243.85L579.22 242.59L579.52 244.90L579.82 243.85L580.12 244.37L580.42 244.89L580.72 244.12L581.01 243.94L581.31 245.23L581.61 244.19L581.91 244.98L582.21 244.60L582.51 244.43L582.81 244.02L583.11 243.82L583.41 244.42L583.71 245.10L584.00 244.92L584.30 244.39L584.60 244.04L584.90 245.07L585.20 245.01L585.50 243.23L585.80 244.33L586.10 243.97L586.40 244.33L586.70 244.14L587.00 244.95L587.29 244.31L587.59 245.00L587.89 245.26L588.19 244.39L588.49 244.67L588.79 243.60L589.09 244.93L589.39 245.25L589.69 244.46L589.99 244.51L590.28 243.82L590.58 244.99L590.88 243.88L591.18 244.02L591.48 244.63L591.78 245.19L592.08 243.78L592.38 245.04L592.68 245.10L592.98 245.03L593.27 244.92L593.57 244.81L593.87 243.89L594.17 245.24L594.47 244.60L594.77 245.23L595.07 245.24L595.37 244.45L595.67 244.97L595.97 243.89L596.26 245.22L596.56 245.22L596.86 244.44L597.16 245.21L597.46 242.86L597.76 244.63L598.06 244.40L598.36 244.29L598.66 245.18L598.96 244.93L599.25 244.87L599.55 244.97L599.85 245.17L600.15 245.15L600.45 244.51L600.75 244.84L601.05 244.69L601.35 244.86L601.65 243.28L601.95 244.99L602.24 245.13L602.54 244.52L602.84 244.30L603.14 244.19L603.44 244.74L603.74 243.02L604.04 243.07L604.34 244.81L604.64 244.20L604.93 244.09L605.23 245.02L605.53 243.77L605.83 244.05L606.13 244.06L606.43 244.07L606.73 243.08L607.03 244.56L607.33 244.03L607.63 244.91L607.92 244.62L608.22 243.48L608.52 243.77L608.82 244.82L609.12 242.42L609.42 244.58L609.72 244.02L610.02 244.03L610.32 243.67L610.62 243.29L610.91 243.65L611.21 242.83L611.51 242.91L611.81 243.84L612.11 242.26L612.41 240.77L612.71 242.61L613.01 241.58L613.31 239.96L613.61 238.03L613.90 235.74L614.20 235.13L614.50 230.38L614.80 226.79L615.10 221.10L615.40 218.69L615.70 216.01L616.00 210.78L616.30 204.68L616.60 210.58L616.89 201.42L617.19 206.23L617.49 211.38L617.79 211.14L618.09 218.14L618.39 220.67L618.69 226.94L618.99 232.21L619.29 235.08L619.59 236.33L619.88 239.83L620.18 240.06L620.48 241.91L620.78 241.65L621.08 243.17L621.38 243.57L621.68 243.88L621.98 243.74L622.28 242.81L622.58 242.75L622.88 243.72L623.17 244.00L623.47 244.50L623.77 244.56L624.07 244.64L624.37 244.71L624.67 244.08L624.97 243.94L625.27 244.77L625.57 244.03L625.87 243.41L626.16 242.57L626.46 244.59L626.76 243.24L627.06 245.03L627.36 244.92L627.66 244.04L627.96 245.03L628.26 243.55L628.56 245.05L628.86 244.34L629.15 244.92L629.45 245.09L629.75 243.23L630.05 245.09L630.35 245.10L630.65 243.96L630.95 244.30L631.25 245.12L631.55 244.69L631.85 243.10L632.14 245.02L632.44 245.14L632.74 243.95L633.04 244.54L633.34 243.94L633.64 243.69L633.94 244.69L634.24 244.40L634.54 243.82L634.84 244.66L635.13 244.75L635.43 243.63L635.73 245.19L636.03 243.23L636.33 244.50L636.63 243.58L636.93 245.14L637.23 244.04L637.53 245.23L637.83 244.64L638.12 245.23L638.42 243.02L638.72 245.17L639.02 244.83L639.32 244.76L639.62 245.07L639.92 244.45L640.22 241.11L640.52 235.34L640.82 234.95L641.11 236.11L641.41 241.69L641.71 242.97L642.01 242.23L642.31 240.18L642.61 241.10L642.91 239.84L643.21 237.35L643.51 237.60L643.80 236.41L644.10 238.57L644.40 237.95L644.70 239.43L645.00 238.44L645.30 240.91L645.60 240.28L645.90 240.14L646.20 241.62L646.50 242.97L646.79 243.67L647.09 244.02L647.39 244.71L647.69 244.63L647.99 245.08L648.29 245.23L648.59 245.25L648.89 244.21L649.19 244.37L649.49 244.18L649.79 245.07L650.08 243.59L650.38 245.14L650.68 245.27L650.98 244.22L651.28 245.13L651.58 245.23L651.88 245.00L652.18 244.19L652.48 243.74L652.77 244.83L653.07 243.61L653.37 244.32L653.67 244.38L653.97 245.28L654.27 243.92L654.57 244.27L654.87 244.86L655.17 244.25L655.47 244.90L655.76 245.12L656.06 245.28L656.36 244.30L656.66 245.28L656.96 245.28L657.26 245.28L657.56 244.40L657.86 244.57L658.16 244.43L658.46 243.85L658.75 243.44L659.05 245.28L659.35 244.89L659.65 244.29L659.95 243.17L660.25 244.44L660.55 245.28L660.85 245.28L661.15 244.75L661.45 244.37L661.75 244.32L662.04 244.06L662.34 245.28L662.64 244.95L662.94 245.28L663.24 244.80L663.54 245.29L663.84 244.21L664.14 245.28L664.44 244.91L664.74 245.28L665.03 244.19L665.33 245.28L665.63 244.38L665.93 244.91L666.23 244.95L666.53 244.66L666.83 245.28L667.13 244.85L667.43 244.68L667.73 244.87L668.02 243.13L668.32 245.20L668.62 245.11L668.92 244.13L669.22 245.29L669.52 243.89L669.82 245.13L670.12 245.29L670.42 245.22L670.71 244.32L671.01 245.28L671.31 244.70L671.61 245.09L671.91 245.29L672.21 245.05L672.51 245.29L672.81 244.58L673.11 243.82L673.41 244.63L673.70 243.67L674.00 244.49L674.30 245.15L674.60 244.94L674.90 245.29L675.20 245.29L675.20 245.30Z" fill="#f4a462" stroke="#f4a462" stroke-width="0.5" stroke-linejoin="round"/>
<rect x="394.65" y="38.60" width="280.55" height="207.70" fill="none" stroke="#000" stroke-width="2.7"/>
<line x1="406.10" y1="246.30" x2="406.10" y2="251.05" stroke="#000" stroke-width="2.1"/>
<path transform="translate(401.09,267.85) scale(0.008789,-0.009053)" d="M763 0L583 0L583 1147Q518 1085 412 1023Q306 961 222 930L222 1104Q373 1175 486 1276Q599 1377 646 1472L763 1472Z"/>
<line x1="421.05" y1="246.30" x2="421.05" y2="248.85" stroke="#000" stroke-width="2.0"/>
<line x1="436.00" y1="246.30" x2="436.00" y2="251.05" stroke="#000" stroke-width="2.1"/>
<text transform="translate(436.00,267.85) scale(1,1.03)" font-size="18" text-anchor="middle">2</text>
<line x1="450.95" y1="246.30" x2="450.95" y2="248.85" stroke="#000" stroke-width="2.0"/>
<line x1="465.90" y1="246.30" x2="465.90" y2="251.05" stroke="#000" stroke-width="2.1"/>
<text transform="translate(465.90,267.85) scale(1,1.03)" font-size="18" text-anchor="middle">3</text>
<line x1="480.85" y1="246.30" x2="480.85" y2="248.85" stroke="#000" stroke-width="2.0"/>
<line x1="495.80" y1="246.30" x2="495.80" y2="251.05" stroke="#000" stroke-width="2.1"/>
<text transform="translate(495.80,267.85) scale(1,1.03)" font-size="18" text-anchor="middle">4</text>
<line x1="510.75" y1="246.30" x2="510.75" y2="248.85" stroke="#000" stroke-width="2.0"/>
<line x1="525.70" y1="246.30" x2="525.70" y2="251.05" stroke="#000" stroke-width="2.1"/>
<text transform="translate(525.70,267.85) scale(1,1.03)" font-size="18" text-anchor="middle">5</text>
<line x1="540.65" y1="246.30" x2="540.65" y2="248.85" stroke="#000" stroke-width="2.0"/>
<line x1="555.60" y1="246.30" x2="555.60" y2="251.05" stroke="#000" stroke-width="2.1"/>
<text transform="translate(555.60,267.85) scale(1,1.03)" font-size="18" text-anchor="middle">6</text>
<line x1="570.55" y1="246.30" x2="570.55" y2="248.85" stroke="#000" stroke-width="2.0"/>
<line x1="585.50" y1="246.30" x2="585.50" y2="251.05" stroke="#000" stroke-width="2.1"/>
<text transform="translate(585.50,267.85) scale(1,1.03)" font-size="18" text-anchor="middle">7</text>
<line x1="600.45" y1="246.30" x2="600.45" y2="248.85" stroke="#000" stroke-width="2.0"/>
<line x1="615.40" y1="246.30" x2="615.40" y2="251.05" stroke="#000" stroke-width="2.1"/>
<text transform="translate(615.40,267.85) scale(1,1.03)" font-size="18" text-anchor="middle">8</text>
<line x1="630.35" y1="246.30" x2="630.35" y2="248.85" stroke="#000" stroke-width="2.0"/>
<line x1="645.30" y1="246.30" x2="645.30" y2="251.05" stroke="#000" stroke-width="2.1"/>
<text transform="translate(645.30,267.85) scale(1,1.03)" font-size="18" text-anchor="middle">9</text>
<line x1="660.25" y1="246.30" x2="660.25" y2="248.85" stroke="#000" stroke-width="2.0"/>
<line x1="675.20" y1="246.30" x2="675.20" y2="251.05" stroke="#000" stroke-width="2.1"/>
<path transform="translate(665.19,267.85) scale(0.008789,-0.009053)" d="M763 0L583 0L583 1147Q518 1085 412 1023Q306 961 222 930L222 1104Q373 1175 486 1276Q599 1377 646 1472L763 1472Z"/><text transform="translate(675.20,267.85) scale(1,1.03)" font-size="18">0</text>
<text transform="translate(171.90,17.05) scale(1,1.03)" font-size="22.6" text-anchor="middle">Original</text>
<text transform="translate(536.10,17.05) scale(1,1.03)" font-size="22.6" text-anchor="middle">Corrected</text>
<text transform="translate(15.40,141.00) rotate(-90) scale(1,1.03)" font-size="20.2" text-anchor="middle">Intensity (a.u.)</text>
<text transform="translate(374.20,141.00) rotate(-90) scale(1,1.03)" font-size="20.2" text-anchor="middle">Intensity (a.u.)</text>
<text transform="translate(122.40,284.75) scale(1,1.03)" font-size="20.2">Energy (eV)</text>
<text transform="translate(476.70,286.35) scale(1,1.03)" font-size="20.2">Energy (keV)</text>
<rect x="116.50" y="64.7" width="12.5" height="12.4" fill="#0000ff"/>
<rect x="116.50" y="102.9" width="12.5" height="12.4" fill="#f4a462"/>
<text transform="translate(139.20,79.30) scale(1,1.03)" font-size="22.7" fill="#0000ff"><tspan>V-Cu</tspan><tspan font-size="15" dy="5.6">2</tspan><tspan dy="-5.6">S</tspan></text>
<text transform="translate(139.80,116.30) scale(1,1.03)" font-size="22.7" fill="#fc8d5d"><tspan>Cu</tspan><tspan font-size="15" dy="5.6">2</tspan><tspan dy="-5.6">S-Cu-V</tspan></text>
<rect x="475.70" y="64.7" width="12.5" height="12.4" fill="#0000ff"/>
<rect x="475.70" y="102.9" width="12.5" height="12.4" fill="#f4a462"/>
<text transform="translate(498.40,79.30) scale(1,1.03)" font-size="22.7" fill="#0000ff"><tspan>V-Cu</tspan><tspan font-size="15" dy="5.6">2</tspan><tspan dy="-5.6">S</tspan></text>
<text transform="translate(499.00,116.30) scale(1,1.03)" font-size="22.7" fill="#fc8d5d"><tspan>Cu</tspan><tspan font-size="15" dy="5.6">2</tspan><tspan dy="-5.6">S-Cu-V</tspan></text>
<text transform="translate(38.00,190.90) scale(1,1.03)" font-size="17.7">Cu</text>
<text transform="translate(81.60,189.70) scale(1,1.03)" font-size="17.8">S</text>
<text transform="translate(245.00,192.80) scale(1,1.03)" font-size="17.7">Cu</text>
<text transform="translate(274.90,192.80) scale(1,1.03)" font-size="17.7">Cu</text>
<text transform="translate(397.20,191.40) scale(1,1.03)" font-size="17.7">Cu</text>
<text transform="translate(440.80,190.20) scale(1,1.03)" font-size="17.8">S</text>
<text transform="translate(604.20,193.30) scale(1,1.03)" font-size="17.7">Cu</text>
<text transform="translate(634.10,193.30) scale(1,1.03)" font-size="17.7">Cu</text>
</svg></body></html>
